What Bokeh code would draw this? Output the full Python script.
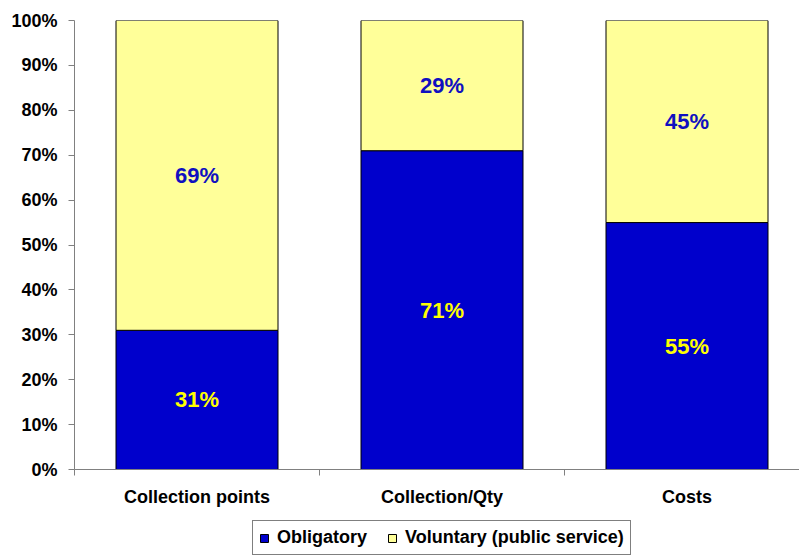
from bokeh.plotting import figure
from bokeh.layouts import column
from bokeh.models import ColumnDataSource, FixedTicker, Legend, LegendItem, NumeralTickFormatter, Range1d
from bokeh.core.properties import value
from bokeh.embed import file_html
from bokeh.resources import INLINE

categories = ["Collection points", "Collection/Qty", "Costs"]
obligatory = [31, 71, 55]
voluntary = [69, 29, 45]
y_ticks = [0, 10, 20, 30, 40, 50, 60, 70, 80, 90, 100]
series_names = ["Obligatory", "Voluntary (public service)"]

FONT = "Liberation Sans"
BLUE = "#0000CC"
YELLOW = "#FFFF99"

xs = [i + 0.5 for i in range(len(categories))]
ob = [v / 100 for v in obligatory]
vo = [v / 100 for v in voluntary]
top = [a + b for a, b in zip(ob, vo)]

src = ColumnDataSource(dict(
    x=xs, ob=ob, top=top,
    ob_mid=[a / 2 for a in ob],
    vo_mid=[a + b / 2 for a, b in zip(ob, vo)],
    ob_lab=[f"{v}%" for v in obligatory],
    vo_lab=[f"{v}%" for v in voluntary],
))

p = figure(output_backend="svg", toolbar_location=None,
           width=799, height=510,
           x_range=Range1d(0, 725 / 245), y_range=Range1d(0, 1),
           min_border_left=74, min_border_top=20, min_border_right=0, min_border_bottom=41)
p.outline_line_color = None
p.background_fill_color = "white"
p.grid.visible = False

w = 162 / 245
p.vbar(x="x", bottom=0, top="ob", width=w, source=src,
       fill_color=BLUE, line_color="black", line_width=1)
p.vbar(x="x", bottom="ob", top="top", width=w, source=src,
       fill_color=YELLOW, line_color="black", line_width=1)

p.text(x="x", y="ob_mid", text="ob_lab", source=src, text_color="#FFFF00",
       text_font=value(FONT), text_font_style="bold", text_font_size="22px",
       text_align="center", text_baseline="middle")
p.text(x="x", y="vo_mid", text="vo_lab", source=src, text_color="#1010C0",
       text_font=value(FONT), text_font_style="bold", text_font_size="22px",
       text_align="center", text_baseline="middle")

# y axis
p.yaxis.ticker = FixedTicker(ticks=[t / 100 for t in y_ticks])
p.yaxis.formatter = NumeralTickFormatter(format="0%")
p.yaxis.axis_line_color = "#808080"
p.yaxis.major_tick_line_color = "#808080"
p.yaxis.major_tick_out = 6
p.yaxis.major_tick_in = 0
p.yaxis.minor_tick_line_color = None
p.yaxis.major_label_standoff = 11
p.yaxis.major_label_text_font = FONT
p.yaxis.major_label_text_font_style = "bold"
p.yaxis.major_label_text_font_size = "18px"
p.yaxis.major_label_text_color = "black"

# x axis
p.xaxis.ticker = FixedTicker(ticks=xs, minor_ticks=[0, 1, 2, 3])
p.xaxis.major_label_overrides = {x: c for x, c in zip(xs, categories)}
p.xaxis.axis_line_color = "#808080"
p.xaxis.major_tick_line_color = None
p.xaxis.major_tick_out = 6
p.xaxis.minor_tick_line_color = "#808080"
p.xaxis.minor_tick_out = 6
p.xaxis.minor_tick_in = 0
p.xaxis.major_label_standoff = 11
p.xaxis.major_label_text_font = FONT
p.xaxis.major_label_text_font_style = "bold"
p.xaxis.major_label_text_font_size = "18px"
p.xaxis.major_label_text_color = "black"

# legend strip
lf = figure(output_backend="svg", toolbar_location=None, width=799, height=48,
            x_range=Range1d(0, 1), y_range=Range1d(0, 1),
            x_axis_type=None, y_axis_type=None,
            min_border=0, min_border_left=0, min_border_right=0,
            min_border_top=0, min_border_bottom=0)
lf.outline_line_color = None
lf.grid.visible = False
# off-screen proxy glyphs so that the legend swatches are drawn
proxy = ColumnDataSource(dict(x=[50], t=[50], b=[49]))
g1 = lf.vbar(x="x", top="t", bottom="b", width=0.1, source=proxy, fill_color=BLUE, line_color="black")
g2 = lf.vbar(x="x", top="t", bottom="b", width=0.1, source=proxy, fill_color=YELLOW, line_color="black")
legend = Legend(items=[LegendItem(label=series_names[0], renderers=[g1]),
                       LegendItem(label=series_names[1], renderers=[g2])],
                orientation="horizontal", location=(178, 3),
                label_text_font=FONT, label_text_font_style="bold",
                label_text_font_size="18px", label_text_color="black",
                glyph_width=10, glyph_height=10,
                label_standoff=8, spacing=20, padding=6, margin=0,
                border_line_color="black", border_line_width=1,
                label_height=16, background_fill_alpha=1.0)
lf.add_layout(legend)

layout = column(p, lf, spacing=0)
open("out.html", "w").write(file_html(layout, INLINE))
